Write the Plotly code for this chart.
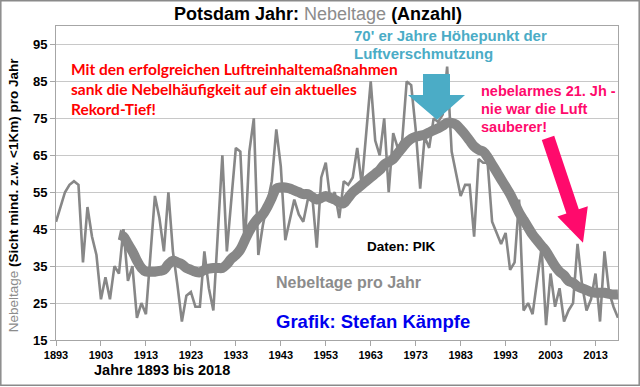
import plotly.graph_objects as go

# ---------------- data ----------------
years = list(range(1893, 2019))
fog_days = [
    47, 51, 55, 57, 58, 57, 36, 51, 43, 38,   # 1893-1902
    26, 32, 26, 35, 33, 45, 31, 35, 21, 25,   # 1903-1912
    22, 38, 54, 48, 39, 55, 39, 30, 20, 27,   # 1913-1922
    28, 24, 24, 39, 29, 23, 44, 65, 39, 53,   # 1923-1932
    67, 66, 40, 66, 75, 38, 46, 52, 58, 72,   # 1933-1942
    62, 42, 48, 53, 49, 47, 53, 54, 40, 59,   # 1943-1952
    63, 53, 55, 48, 58, 57, 59, 67, 57, 71,   # 1953-1962
    85, 69, 65, 75, 55, 71, 67, 69, 85, 84,   # 1963-1972
    72, 56, 70, 67, 75, 74, 76, 89, 66, 60,   # 1973-1982
    54, 57, 57, 43, 64, 63, 63, 47, 44, 41,   # 1983-1992
    44, 34, 36, 53, 23, 25, 22, 31, 40, 19,   # 1993-2002
    33, 24, 29, 20, 23, 25, 41, 30, 23, 26,   # 2003-2012
    33, 20, 39, 28, 24, 21,                   # 2013-2018
]

smooth_years = list(range(1907, 2019))
smooth_vals = [
    43.5, 43, 41, 39, 36.5, 34.5, 33.5, 33.5, 33.5, 33.7,        # 1907-1916
    34, 35.5, 36.5, 36, 35.5, 34.5, 34, 33.5, 33.3, 34,          # 1917-1926
    34.3, 34.5, 34.5, 34.5, 35.5, 37, 38, 39.5, 42, 44.5,        # 1927-1936
    46.5, 48, 49, 51, 53.5, 56, 56.3, 56.3, 56, 55.5,            # 1937-1946
    55, 54.5, 54.5, 53.7, 53, 53.5, 54, 53.5, 53, 52.3,          # 1947-1956
    52, 53.5, 55, 56, 57, 58, 59, 60, 61, 62.5,                  # 1957-1966
    63.2, 64, 65.5, 67, 68.5, 69.5, 70, 70.3, 70.6, 71.2,        # 1967-1976
    71.8, 72.3, 73, 73.8, 73.8, 73.3, 72, 70.6, 69, 67.4,        # 1977-1986
    66.5, 66, 64.5, 62.5, 60.5, 58.5, 56.5, 54.5, 52, 49.5,      # 1987-1996
    47.5, 45.5, 43.5, 42, 40.5, 39, 37, 35, 33.5, 32.5,          # 1997-2006
    31, 30.5, 29.5, 29, 28.5, 28, 27.8, 27.8, 27.8, 27.5,        # 2007-2016
    27.3, 27.3,                                                  # 2017-2018
]

x_ticks = list(range(1893, 2014, 10))
y_ticks = list(range(15, 96, 10))

# ---------------- layout geometry ----------------
W, H = 640, 387
ML, MR, MT, MB = 56, 22, 26, 46.5
PW, PH = W - ML - MR, H - MT - MB


def px(x):
    return (x - ML) / PW


def py(y):
    return (H - MB - y) / PH


def path(points):
    return "M " + " L ".join(f"{px(a):.5f},{py(b):.5f}" for a, b in points) + " Z"


GRAY = "#878787"
ARIAL = "Liberation Sans, Arial, sans-serif"

fig = go.Figure()
fig.add_trace(go.Scatter(x=years, y=fog_days, mode="lines",
                         line=dict(color=GRAY, width=2.6), hoverinfo="skip"))
fig.add_trace(go.Scatter(x=smooth_years, y=smooth_vals, mode="lines",
                         line=dict(color=GRAY, width=10, shape="spline"),
                         hoverinfo="skip"))

shapes = []
# outer frame
shapes.append(dict(type="rect", xref="paper", yref="paper",
                   x0=px(0.8), x1=px(639.2), y0=py(0.8), y1=py(385.8),
                   line=dict(color="#8a8a8a", width=1.5), layer="below"))
# teal block arrow
teal = [(423, 74), (450, 74), (450, 95), (465, 95), (437, 120), (408, 95), (423, 95)]
shapes.append(dict(type="path", xref="paper", yref="paper", path=path(teal),
                   fillcolor="#4BACC6", line=dict(width=0)))
# pink diagonal arrow
pink = [(541.8, 140.1), (554.2, 136.0), (578.8, 209.6), (587.8, 206.6),
        (583, 243), (557.4, 216.8), (566.4, 213.8)]
shapes.append(dict(type="path", xref="paper", yref="paper", path=path(pink),
                   fillcolor="#FF0A6C", line=dict(width=0)))

ann = []


def add_text(text, x, y, size, color, family=ARIAL, xanchor="left", angle=0, yanchor="middle"):
    ann.append(dict(text=text, x=px(x), y=py(y), xref="paper", yref="paper",
                    xanchor=xanchor, yanchor=yanchor, showarrow=False, textangle=angle,
                    font=dict(size=size, color=color, family=family), align="left",
                    borderpad=0))


add_text("<b>Potsdam Jahr: </b><span style='color:#8c8c8c'>Nebeltage</span><b> (Anzahl)</b>",
         318, 14, 18, "#000000", xanchor="center")
add_text("<span style='color:#8c8c8c'>Nebeltage</span><b> (Sicht mind. z.w. &lt;1Km) pro Jahr</b>",
         13.5, 196, 13.5, "#000000", xanchor="center", angle=-90)
add_text("<b>Jahre 1893 bis 2018</b>", 93, 371, 14.5, "#000000")
for i, line in enumerate(["Mit den erfolgreichen Luftreinhaltemaßnahmen",
                          "sank die Nebelhäufigkeit auf ein aktuelles",
                          "Rekord-Tief!"]):
    add_text("<b>" + line + "</b>", 70, 69.5 + 20 * i, 15.5, "#FF0000",
             family="Lato, Carlito, sans-serif")
for i, line in enumerate(["70' er Jahre Höhepunkt der", "Luftverschmutzung"]):
    add_text("<b>" + line + "</b>", 353, 35.5 + 18 * i, 15, "#4BACC6")
for i, line in enumerate(["nebelarmes 21. Jh -", "nie war die Luft", "sauberer!"]):
    add_text("<b>" + line + "</b>", 480, 91.5 + 17.8 * i, 14.5, "#FF0A6C")
add_text("<b>Daten: PIK</b>", 366, 246.5, 13.5, "#000000")
add_text("<b>Nebeltage pro Jahr</b>", 275, 283, 16, "#8c8c8c")
add_text("<b>Grafik: Stefan Kämpfe</b>", 275, 322, 18.5, "#0000EE")

fig.update_layout(
    width=W, height=H, autosize=False,
    margin=dict(l=ML, r=MR, t=MT, b=MB, pad=0),
    paper_bgcolor="white", plot_bgcolor="white",
    showlegend=False,
    shapes=shapes, annotations=ann,
    font=dict(family=ARIAL, color="#000000"),
    xaxis=dict(range=[1893, 2018], tickvals=x_ticks,
               ticktext=[f"<b>{t}</b>" for t in x_ticks],
               tickfont=dict(size=11, family=ARIAL, color="#000000"),
               ticks="outside", ticklen=5, tickcolor="#A6A6A6",
               showgrid=False, zeroline=False,
               showline=True, linecolor="#A6A6A6", linewidth=1, mirror=True),
    yaxis=dict(range=[15, 100], tickvals=y_ticks,
               ticktext=[f"<b>{t}</b>" for t in y_ticks],
               tickfont=dict(size=13, family=ARIAL, color="#000000"),
               ticks="outside", ticklen=5, tickcolor="#A6A6A6",
               showgrid=True, gridcolor="#C8C8C8", gridwidth=1, zeroline=False,
               showline=True, linecolor="#A6A6A6", linewidth=1, mirror=True),
)

fig.write_html("out.html",
               config={"displayModeBar": False, "staticPlot": True},
               post_script="document.body.style.margin='0';document.body.style.overflow='hidden';")
